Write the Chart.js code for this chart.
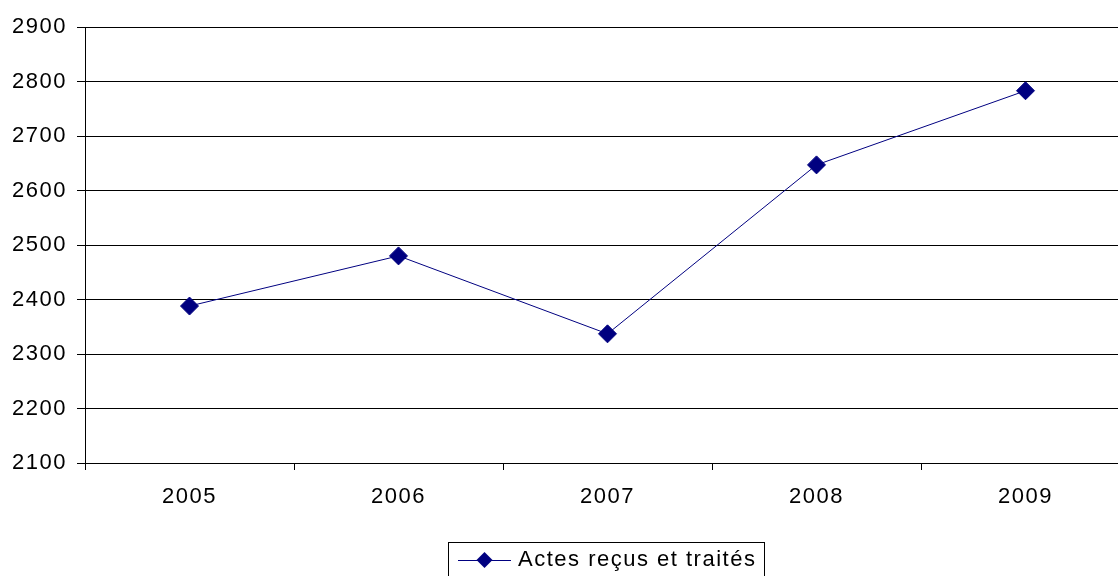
<!DOCTYPE html>
<html>
<head>
<meta charset="utf-8">
<script src="https://cdn.jsdelivr.net/npm/chart.js@4/dist/chart.umd.min.js"></script>
<style>
  html, body { margin: 0; padding: 0; background: #fff; overflow: hidden; }
  #wrap { width: 1118px; height: 576px; overflow: hidden; position: relative; }
  canvas { display: block; }
</style>
</head>
<body>
<div id="wrap"><canvas id="c" width="1212" height="576"></canvas></div>
<script>
// Yearly counts of acts received and processed
const years = ['2005', '2006', '2007', '2008', '2009'];
const actes = [2388, 2480, 2337, 2647, 2783];
const seriesLabel = 'Actes reçus et traités';
const yMin = 2100;
const yMax = 2900;
const yStep = 100;

const FONT = '"Liberation Sans", Arial, sans-serif';
const NAVY = '#000080';
const SPACING = '1.5px';

// Slightly spaced-out lettering for every label on the canvas
const spacingPlugin = {
  id: 'spacing',
  beforeUpdate(chart) { chart.ctx.letterSpacing = SPACING; },
  beforeDraw(chart) { chart.ctx.letterSpacing = SPACING; }
};

// Boxed legend: line sample with a diamond marker, then the series name
const boxedLegend = {
  id: 'boxedLegend',
  afterDraw(chart) {
    const ctx = chart.ctx;
    ctx.save();
    ctx.letterSpacing = SPACING;
    ctx.font = '22px ' + FONT;
    const tw = ctx.measureText(seriesLabel).width;
    const padL = 10, lineW = 53, gap = 7, padR = 8;
    const total = padL + lineW + gap + tw + padR;
    const cx = chart.width / 2;
    const left = Math.round(cx - total / 2);
    const top = 542;
    const midY = 560;
    ctx.strokeStyle = '#000';
    ctx.lineWidth = 1;
    ctx.strokeRect(left + 0.5, top + 0.5, Math.round(total), 44);
    // line sample
    ctx.strokeStyle = NAVY;
    ctx.beginPath();
    ctx.moveTo(left + padL, midY + 0.5);
    ctx.lineTo(left + padL + lineW, midY + 0.5);
    ctx.stroke();
    // diamond marker
    const dx = left + padL + lineW / 2;
    const r = 8;
    ctx.fillStyle = NAVY;
    ctx.beginPath();
    ctx.moveTo(dx - r, midY);
    ctx.lineTo(dx, midY - r);
    ctx.lineTo(dx + r, midY);
    ctx.lineTo(dx, midY + r);
    ctx.closePath();
    ctx.fill();
    // text
    ctx.fillStyle = '#000';
    ctx.textAlign = 'left';
    ctx.textBaseline = 'middle';
    ctx.fillText(seriesLabel, left + padL + lineW + gap, midY);
    ctx.restore();
  }
};

new Chart(document.getElementById('c'), {
  type: 'line',
  data: {
    labels: years,
    datasets: [{
      label: seriesLabel,
      data: actes,
      borderColor: NAVY,
      backgroundColor: NAVY,
      borderWidth: 1,
      tension: 0,
      pointStyle: 'rectRot',
      pointRadius: 9,
      pointBorderWidth: 1,
      pointBackgroundColor: NAVY,
      pointBorderColor: NAVY
    }]
  },
  options: {
    responsive: false,
    animation: false,
    devicePixelRatio: 1,
    layout: { padding: { top: 27, right: 82, left: 0, bottom: 0 } },
    plugins: {
      legend: { display: false },
      tooltip: { enabled: false }
    },
    scales: {
      x: {
        type: 'category',
        offset: true,
        afterFit(scale) { scale.height = 113; },
        grid: {
          offset: true,
          drawOnChartArea: false,
          drawTicks: true,
          tickLength: 7,
          color: '#000',
          lineWidth: 1
        },
        border: { display: true, color: '#000', width: 1 },
        ticks: {
          color: '#000',
          padding: 14,
          font: { family: FONT, size: 22 },
          maxRotation: 0,
          autoSkip: false
        }
      },
      y: {
        min: yMin,
        max: yMax,
        afterFit(scale) { scale.width = 85; },
        grid: {
          color: '#000',
          lineWidth: 1,
          drawTicks: true,
          tickLength: 8
        },
        border: { display: true, color: '#000', width: 1 },
        ticks: {
          stepSize: yStep,
          color: '#000',
          padding: 10,
          font: { family: FONT, size: 22 },
          callback: (v) => String(v)
        }
      }
    }
  },
  plugins: [spacingPlugin, boxedLegend]
});
</script>
</body>
</html>
